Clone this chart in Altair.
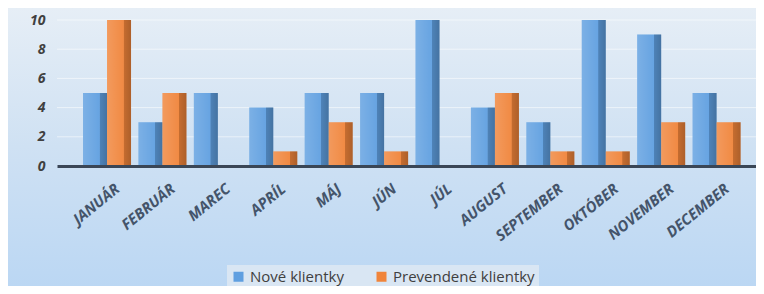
import altair as alt
import pandas as pd

months = ["JANUÁR", "FEBRUÁR", "MAREC", "APRÍL", "MÁJ", "JÚN", "JÚL",
          "AUGUST", "SEPTEMBER", "OKTÓBER", "NOVEMBER", "DECEMBER"]
nove = [5, 3, 5, 4, 5, 5, 10, 4, 3, 10, 9, 5]
prevendene = [10, 5, 0, 1, 3, 1, 0, 5, 1, 1, 3, 3]
series = ["Nové klientky", "Prevendené klientky"]
colors = ["#5f9fe0", "#f0843a"]
y_ticks = [0, 2, 4, 6, 8, 10]
grid_vals = [2, 4, 6, 8, 10]

rows = []
for m, a, b in zip(months, nove, prevendene):
    rows.append({"month": m, "series": series[0], "value": a})
    rows.append({"month": m, "series": series[1], "value": b})
df = pd.DataFrame(rows)

W, H = 699, 146
PL, PT, PB = 49, 12, 120

x_enc = alt.X("month:N", sort=months,
              scale=alt.Scale(paddingInner=0, paddingOuter=0.307, align=0.656),
              axis=alt.Axis(title=None, labelAngle=-39, labelFont="Open Sans",
                            labelFontSize=15, labelFontWeight="bold",
                            labelFontStyle="italic", labelColor="#44546a",
                            labelPadding=15, labelOffset=6, ticks=False,
                            labelOverlap=False,
                            domainColor="#3a4656", domainWidth=3, grid=False,
                            zindex=1))
y_axis = alt.Axis(title=None, values=y_ticks, labelFont="Open Sans",
                  labelFontSize=14, labelFontWeight="bold",
                  labelFontStyle="italic", labelColor="#404040",
                  labelPadding=12, ticks=False, domain=False,
                  labelOverlap=False, labelBound=False,
                  grid=False, zindex=1)
y_enc = alt.Y("value:Q", scale=alt.Scale(domain=[0, 10], nice=False), axis=y_axis)
xo_enc = alt.XOffset("series:N", sort=series,
                     scale=alt.Scale(paddingInner=0, paddingOuter=0.154))

bg = alt.Chart(pd.DataFrame({"a": [0]})).mark_rect(
    color=alt.LinearGradient(gradient="linear", x1=0, y1=0, x2=0, y2=1,
                             stops=[alt.GradientStop(color="#e6eef6", offset=0),
                                    alt.GradientStop(color="#cfe1f3", offset=0.5),
                                    alt.GradientStop(color="#bbd7f3", offset=1)])
).encode(x=alt.value(-PL), x2=alt.value(W), y=alt.value(-PT), y2=alt.value(H + PB))

grid = alt.Chart(pd.DataFrame({"value": grid_vals})).mark_rule(
    color="#ffffff", opacity=0.55, strokeWidth=1
).encode(y=y_enc)

bars = alt.Chart(df).mark_bar().encode(
    x=x_enc, xOffset=xo_enc, y=y_enc,
    color=alt.Color("series:N", sort=series,
                    scale=alt.Scale(domain=series, range=colors),
                    legend=alt.Legend(title=None, orient="none", direction="horizontal",
                                      legendX=170, legendY=245, symbolType="square",
                                      symbolSize=100, symbolStrokeWidth=0,
                                      labelFont="Open Sans", labelFontSize=15,
                                      labelColor="#404040", columnPadding=30,
                                      fillColor="#d9e6f3", padding=4))
)

shade = alt.Chart(df).mark_bar(
    color=alt.LinearGradient(gradient="linear", x1=0, y1=0, x2=1, y2=0,
                             stops=[alt.GradientStop(color="rgba(255,255,255,0.18)", offset=0),
                                    alt.GradientStop(color="rgba(255,255,255,0.05)", offset=0.68),
                                    alt.GradientStop(color="rgba(0,0,0,0.18)", offset=0.70),
                                    alt.GradientStop(color="rgba(0,0,0,0.28)", offset=1)])
).encode(x=x_enc, xOffset=xo_enc, y=y_enc)

chart = alt.layer(bg, grid, bars, shade).properties(
    width=W, height=H,
    autosize=alt.AutoSizeParams(type="none"),
    padding={"left": PL, "top": PT, "right": 0, "bottom": PB},
    background="#cfe1f3"
).configure_view(stroke=None)

chart.save("out.html", embed_options={"renderer": "svg", "actions": False})
